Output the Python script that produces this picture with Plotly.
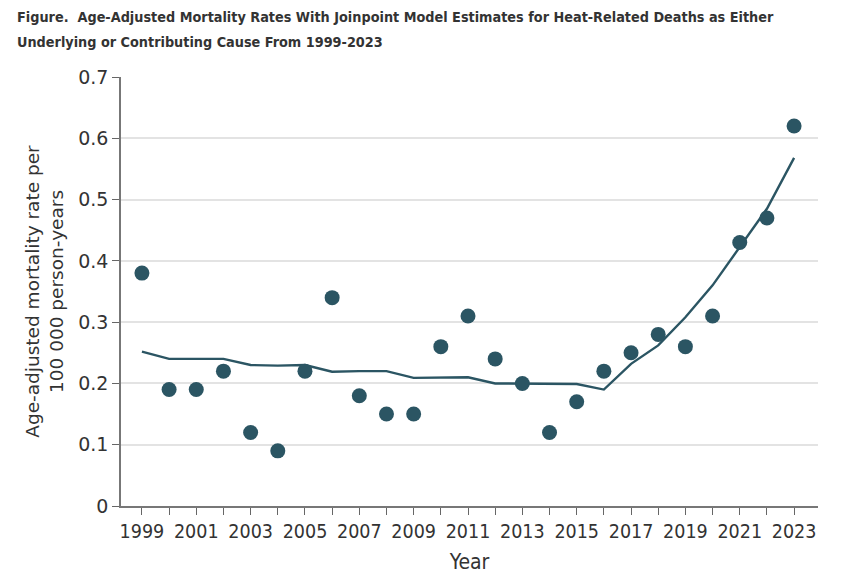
import plotly.graph_objects as go

years = list(range(1999, 2024))
observed = [0.38, 0.19, 0.19, 0.22, 0.12, 0.09, 0.22, 0.34, 0.18, 0.15, 0.15, 0.26, 0.31,
            0.24, 0.20, 0.12, 0.17, 0.22, 0.25, 0.28, 0.26, 0.31, 0.43, 0.47, 0.62]
model = [0.252, 0.240, 0.240, 0.240, 0.230, 0.229, 0.230, 0.219, 0.220, 0.220, 0.209, 0.210,
         0.210, 0.200, 0.200, 0.200, 0.199, 0.190, 0.232, 0.262, 0.308, 0.360, 0.422, 0.485, 0.568]
tick_labels = [str(y) if (y - 1999) % 2 == 0 else "" for y in years]
y_ticks = [0, 0.1, 0.2, 0.3, 0.4, 0.5, 0.6, 0.7]
y_labels = ["0", "0.1", "0.2", "0.3", "0.4", "0.5", "0.6", "0.7"]
title_lines = ["Figure.  Age-Adjusted Mortality Rates With Joinpoint Model Estimates for Heat-Related Deaths as Either",
               "Underlying or Contributing Cause From 1999-2023"]

color = "#2b5563"
cond = "DejaVu Sans Condensed, Liberation Sans Narrow, sans-serif"
fig = go.Figure()
fig.add_trace(go.Scatter(x=years, y=model, mode="lines",
                         line=dict(color=color, width=2.4), hoverinfo="skip"))
fig.add_trace(go.Scatter(x=years, y=observed, mode="markers",
                         marker=dict(color=color, size=15, line=dict(width=0))))

W, H = 844, 578
ml, mr, mt, mb = 113, 34, 69, 80
ph = H - mt - mb
for i, t in enumerate(title_lines):
    ypix = 9 + 25 * i  # center of the line in figure pixels
    fig.add_annotation(text="<b>" + t + "</b>", xref="paper", yref="paper",
                       x=(7 - ml) / (W - ml - mr), y=1 + (mt - ypix) / ph,
                       xanchor="left", yanchor="middle", showarrow=False,
                       font=dict(family=cond, size=14.3, color="#333333"))

fig.update_layout(
    width=W, height=H,
    margin=dict(l=ml, r=mr, t=mt, b=mb),
    paper_bgcolor="white", plot_bgcolor="white",
    showlegend=False,
    xaxis=dict(
        range=[1998.23, 2023.88],
        tickmode="array", tickvals=years, ticktext=tick_labels,
        ticks="outside", ticklen=7, tickcolor="#666666", tickwidth=1,
        showline=True, linecolor="#777777", linewidth=1.5,
        showgrid=False, zeroline=False,
        tickfont=dict(family=cond, size=19.5, color="#333333"),
        title=dict(text="Year", standoff=12,
                   font=dict(family=cond, size=21, color="#333333")),
    ),
    yaxis=dict(
        range=[0, 0.7],
        tickmode="array", tickvals=y_ticks, ticktext=y_labels,
        ticks="outside", ticklen=7, tickcolor="#666666", tickwidth=1,
        showline=True, linecolor="#777777", linewidth=1.5,
        showgrid=True, gridcolor="#e3e3e3", gridwidth=1.5,
        zeroline=False,
        tickfont=dict(family="DejaVu Sans, sans-serif", size=19, color="#333333"),
        title=dict(text="Age-adjusted mortality rate per<br>100 000 person-years", standoff=10,
                   font=dict(family="DejaVu Sans, sans-serif", size=18.5, color="#333333")),
    ),
)

fig.write_html("out.html")
